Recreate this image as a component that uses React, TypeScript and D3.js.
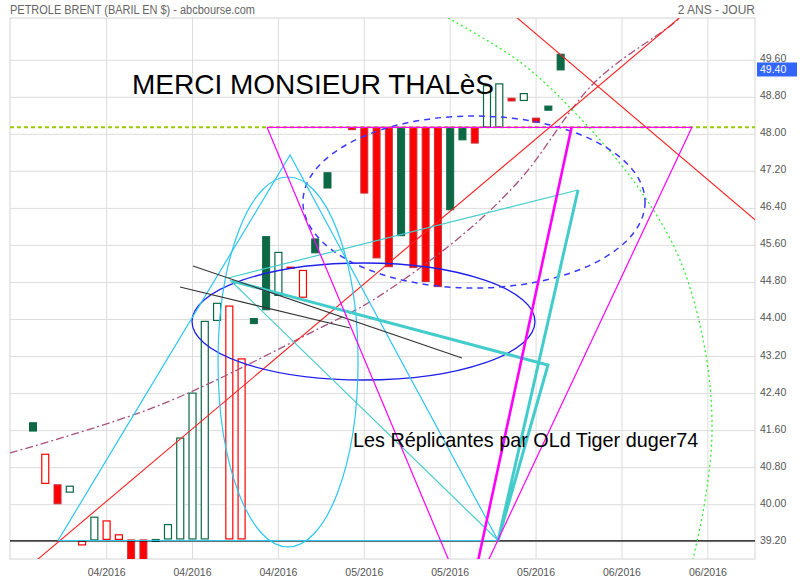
import React from 'react';
import * as d3 from 'd3';

const W = 800;
const H = 580;
const L = 10, R = 755, T = 18, B = 559;

// candles (index, open, close, color)
const candleIndex = [0,1,2,3,4,5,6,7,8,9,10,11,12,13,14,15,16,17,18,19,20,21,22,23,24,26,27,28,29,30,31,32,33,34,35,36,37,38,39,40,41,42,43];
const opens = [41.77,40.45,40.43,40.26,39.12,39.23,39.24,39.24,39.24,39.24,39.25,39.25,39.25,39.25,39.25,43.97,39.25,39.25,44.02,45.79,44.51,45.10,44.47,45.74,47.17,48.15,48.15,48.15,48.15,48.15,48.15,48.15,48.15,48.15,48.15,48.15,48.15,48.15,48.78,48.72,48.35,48.61,49.73];
const closes = [41.59,41.10,40.02,40.41,39.22,39.74,39.66,39.36,38.60,38.60,39.22,39.58,41.45,42.42,43.97,44.36,44.30,43.16,43.91,44.21,45.46,45.14,45.07,45.44,46.84,48.10,46.73,45.33,45.14,45.81,45.12,44.82,44.71,46.37,47.88,47.81,49.06,49.10,48.72,48.89,48.26,48.52,49.39];
const colors = ['g','r','r','g','r','g','r','r','r','r','g','g','g','g','g','g','r','r','g','g','g','r','r','g','g','r','r','r','r','g','r','r','r','g','g','r','g','g','r','g','r','g','g'];

const xTickIndex = [6, 13, 20, 27, 34, 41, 48, 55];
const xTickLabels = ['04/2016','04/2016','04/2016','05/2016','05/2016','05/2016','06/2016','06/2016'];
const yTicks = [39.2, 40.0, 40.8, 41.6, 42.4, 43.2, 44.0, 44.8, 45.6, 46.4, 47.2, 48.0, 48.8, 49.6];
const lastPrice = 49.40;

// drawings, as [index, price] points
const blackLevel = 39.22;
const greenDashLevel = 48.15;
const magentaTop = [[19.07, 48.15], [53.71, 48.15]];
const magentaThin1 = [[19.07, 48.15], [34.39, 38.48]];
const magentaThick = [[43.90, 48.16], [36.02, 38.48]];
const magentaThin2 = [[53.71, 48.16], [36.55, 38.48]];
const redRise = [[-0.24, 38.68], [53.14, 50.62]];
const redFall = [[39.28, 50.555], [59.25, 46.063]];
const mauveCurve = [[-1.874, 41.117], [10.35, 42.153], [23.39, 43.816], [27.71, 44.421], [34.80, 45.782], [39.69, 47.02], [45.80, 49.13], [52.69, 50.512], [53.3, 50.75]];
const greenDotCurve = [[33.82, 50.512], [39.69, 49.562], [44.58, 48.352], [49.47, 46.797], [52.73, 45.285], [54.77, 43.341], [55.34, 41.613], [54.77, 40.101], [53.79, 38.827], [53.38, 38.37]];
const blueEllipse = [12.96, 40.91, 45.22, 42.693];
const blueDashEllipse = [22.00, 49.88, 48.395, 44.68];
const cyanEllipse = [15.08, 26.49, 47.078, 39.087];
const cyanTriangle = [[2.04, 39.227], [20.95, 47.553], [37.90, 39.227], [2.04, 39.227]];
const turqThick = [[16.22, 44.832], [41.97, 43.017], [37.90, 39.227], [44.42, 46.797]];
const turqThin1 = [[44.42, 46.797], [15.89, 44.896]];
const turqThin2 = [[44.42, 46.797], [37.90, 39.227]];
const turqThin3 = [[16.06, 44.853], [37.90, 39.227]];
const blackLineA = [[13.04, 45.156], [34.96, 43.168]];
const blackLineB = [[11.98, 44.702], [25.84, 43.816]];

const FONT = '"Liberation Sans", Arial, Helvetica, sans-serif';

export default function App() {
  const x = d3.scaleLinear().domain([-1.874, 58.84]).range([L, R]);
  const y = d3.scaleLinear().domain([38.827, 50.512]).range([B, T]);
  const line = d3.line<number[]>().x(d => x(d[0])).y(d => y(d[1]));
  const curve = d3.line<number[]>().x(d => x(d[0])).y(d => y(d[1])).curve(d3.curveCatmullRom);
  const bw = 8;
  const GREEN = '#0d6846';
  const RED = '#ff0000';

  const ell = (e: number[], props: any) => (
    <ellipse cx={(x(e[0]) + x(e[1])) / 2} cy={(y(e[2]) + y(e[3])) / 2}
      rx={(x(e[1]) - x(e[0])) / 2} ry={(y(e[3]) - y(e[2])) / 2} fill="none" {...props} />
  );

  return (
    <svg width={W} height={H} style={{ position: 'absolute', left: 0, top: 0, background: '#fff' }} fontFamily={FONT}>
      <defs>
        <clipPath id="plotclip"><rect x={L} y={T} width={R - L} height={B - T} /></clipPath>
      </defs>
      <rect x={0} y={0} width={W} height={H} fill="#fff" />
      {/* header */}
      <text x={10} y={14} fontSize={12} fill="#666" textLength={245} lengthAdjust="spacingAndGlyphs">PETROLE BRENT (BARIL EN $) - abcbourse.com</text>
      <text x={755} y={14} fontSize={12} fill="#666" textAnchor="end">2 ANS - JOUR</text>
      {/* grid */}
      {yTicks.map((v, k) => (
        <line key={'hy' + k} x1={L} x2={R} y1={y(v)} y2={y(v)} stroke="#dddddd" strokeWidth={1} />
      ))}
      {xTickIndex.map((t, k) => (
        <line key={'vx' + k} x1={x(t)} x2={x(t)} y1={T} y2={B} stroke="#dddddd" strokeWidth={1} />
      ))}
      <rect x={L} y={T} width={R - L} height={B - T} fill="none" stroke="#d4d4d4" />
      {/* axes labels */}
      {yTicks.map((v, k) => (
        <text key={'yl' + k} x={760} y={y(v) + 2} fontSize={10.5} fill="#555">{v.toFixed(2)}</text>
      ))}
      {xTickIndex.map((t, k) => (
        <text key={'xl' + k} x={x(t)} y={576} fontSize={10.5} fill="#555" textAnchor="middle">{xTickLabels[k]}</text>
      ))}
      <rect x={757} y={y(lastPrice) - 7} width={40} height={14} fill="#3366ff" />
      <text x={760} y={y(lastPrice) + 4} fontSize={10.5} fill="#fff">{lastPrice.toFixed(2)}</text>

      <g clipPath="url(#plotclip)">
        {/* candles */}
        {candleIndex.map((idx, k) => {
          const o = opens[k], c = closes[k];
          const hollow = c > o;
          const col = colors[k] === 'g' ? GREEN : RED;
          const top = y(Math.max(o, c));
          const bot = y(Math.min(o, c));
          const h = Math.max(bot - top, 2);
          if (hollow) {
            return <rect key={'c' + k} x={x(idx) - bw / 2 + 0.5} y={top + 0.5} width={bw - 1} height={h - 1}
              fill="#fff" stroke={col} strokeWidth={1.2} />;
          }
          return <rect key={'c' + k} x={x(idx) - bw / 2 + 0.5} y={top} width={bw - 1} height={h}
            fill={col} stroke={colors[k] === 'g' ? GREEN : '#c8323c'} strokeWidth={1} />;
        })}

        {/* horizontal levels */}
        <line x1={L} x2={R} y1={y(blackLevel)} y2={y(blackLevel)} stroke="#000" strokeWidth={1.3} />
        <line x1={L} x2={R} y1={y(greenDashLevel)} y2={y(greenDashLevel)} stroke="#99cc00" strokeWidth={2} strokeDasharray="4,3" />

        {/* mauve dash-dot curve */}
        <path d={curve(mauveCurve) || ''} fill="none" stroke="#a8507f" strokeWidth={1.3} strokeDasharray="8,3,2,3" />
        {/* green dotted curve */}
        <path d={curve(greenDotCurve) || ''} fill="none" stroke="#33ee33" strokeWidth={1.3} strokeDasharray="2,3" />

        {/* red lines */}
        <path d={line(redRise) || ''} fill="none" stroke="#ff2020" strokeWidth={1.1} />
        <path d={line(redFall) || ''} fill="none" stroke="#ff2020" strokeWidth={1.1} />

        {/* ellipses */}
        {ell(blueEllipse, { stroke: '#2020e8', strokeWidth: 1.3 })}
        {ell(blueDashEllipse, { stroke: '#3a3aff', strokeWidth: 1.5, strokeDasharray: '6,5' })}
        {ell(cyanEllipse, { stroke: '#2cc6f2', strokeWidth: 1.2 })}

        {/* cyan triangle */}
        <path d={line(cyanTriangle) || ''} fill="none" stroke="#2cc6f2" strokeWidth={1.2} />

        {/* turquoise */}
        <path d={line(turqThick) || ''} fill="none" stroke="#44cccc" strokeWidth={3} />
        <path d={line(turqThin1) || ''} fill="none" stroke="#44cccc" strokeWidth={1.2} />
        <path d={line(turqThin2) || ''} fill="none" stroke="#44cccc" strokeWidth={1.2} />
        <path d={line(turqThin3) || ''} fill="none" stroke="#44cccc" strokeWidth={1.2} />

        {/* black lines */}
        <path d={line(blackLineA) || ''} fill="none" stroke="#333" strokeWidth={1.1} />
        <path d={line(blackLineB) || ''} fill="none" stroke="#333" strokeWidth={1.1} />

        {/* magenta */}
        <path d={line(magentaTop) || ''} fill="none" stroke="#ff00ff" strokeWidth={1.2} />
        <path d={line(magentaThin1) || ''} fill="none" stroke="#ff00ff" strokeWidth={1.2} />
        <path d={line(magentaThin2) || ''} fill="none" stroke="#ff00ff" strokeWidth={1.2} />
        <path d={line(magentaThick) || ''} fill="none" stroke="#ff00ff" strokeWidth={2.6} />
      </g>

      {/* texts */}
      <text x={132} y={94} fontSize={28} fill="#000">MERCI MONSIEUR THALèS</text>
      <text x={353} y={447} fontSize={19.8} fill="#000">Les Réplicantes par OLd Tiger duger74</text>
    </svg>
  );
}
